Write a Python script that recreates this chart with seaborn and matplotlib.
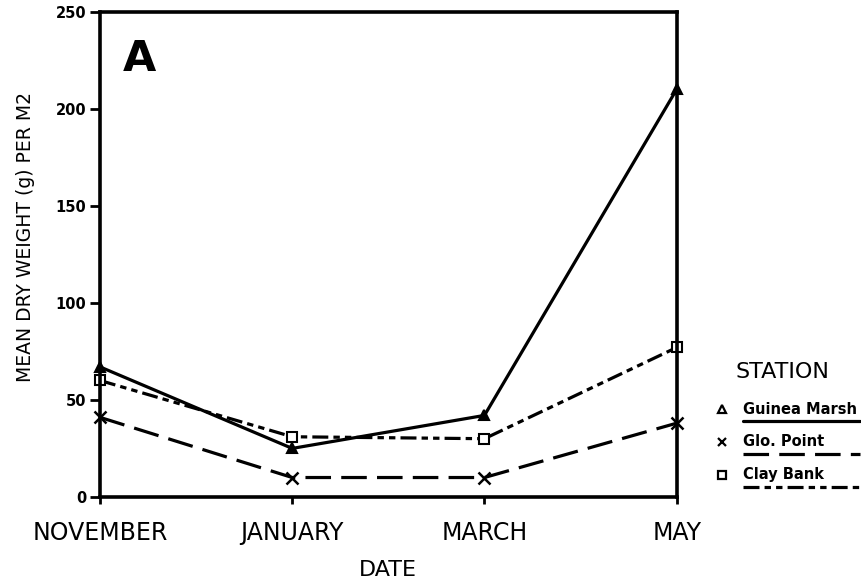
import numpy as np
import pandas as pd
import matplotlib
matplotlib.use("Agg")
import matplotlib.pyplot as plt
from matplotlib.lines import Line2D
import seaborn as sns

# Sampling months and mean dry weight (g per m2) for each station
months = ["NOVEMBER", "JANUARY", "MARCH", "MAY"]
stations = ["Guinea Marsh", "Glo. Point", "Clay Bank"]
guinea_marsh = [67, 25, 42, 210]
glo_point = [41, 10, 10, 38]
clay_bank = [60, 31, 30, 77]
y_ticks = [0, 50, 100, 150, 200, 250]

sns.set_theme(style="white")
plt.rcParams["font.family"] = ["DejaVu Sans"]
plt.rcParams["text.color"] = "black"
plt.rcParams["axes.labelcolor"] = "black"
plt.rcParams["xtick.color"] = "black"
plt.rcParams["ytick.color"] = "black"

lw = 2.3
dash_map = {
    "Guinea Marsh": "",
    "Glo. Point": (8, 3.2),
    "Clay Bank": (5, 1.6, 2, 1.6, 2, 1.6),
}
marker_style = {
    "Guinea Marsh": dict(marker="^", markersize=7, markerfacecolor="black",
                         markeredgewidth=1.5),
    "Glo. Point": dict(marker="x", markersize=9, markeredgewidth=1.8),
    "Clay Bank": dict(marker="s", markersize=7, markerfacecolor="white",
                      markeredgewidth=1.5),
}

fig = plt.figure(figsize=(8.62, 5.86), dpi=100)
ax = fig.add_axes([0.116, 0.152, 0.669, 0.828])

for name, vals in zip(stations, [guinea_marsh, glo_point, clay_bank]):
    d = pd.DataFrame({"month": range(len(months)), "weight": vals})
    sns.lineplot(data=d, x="month", y="weight", color="black", linewidth=lw,
                 markeredgecolor="black", ax=ax, clip_on=False,
                 **marker_style[name])
    line = ax.get_lines()[-1]
    if dash_map[name]:
        line.set_dashes(dash_map[name])

ax.set_xlim(0, 3)
ax.set_ylim(0, 250)
ax.set_xticks(range(len(months)))
ax.set_xticklabels(months, fontsize=17)
ax.set_yticks(y_ticks)
ax.set_yticklabels([str(t) for t in y_ticks], fontsize=10.5, fontweight="bold")
ax.tick_params(axis="x", direction="out", length=5, width=2, colors="black",
               bottom=True, pad=12)
ax.tick_params(axis="y", direction="out", length=7, width=2, colors="black",
               left=True, pad=3)
for s in ax.spines.values():
    s.set_visible(True)
    s.set_color("black")
    s.set_linewidth(2.6)

ax.set_xlabel("DATE", fontsize=16, labelpad=11, color="black")
ax.set_ylabel("MEAN DRY WEIGHT (g) PER M2", fontsize=13.5, color="black")
ax.yaxis.set_label_coords(-0.112, 0.535)
ax.text(0.04, 0.945, "A", transform=ax.transAxes, fontsize=31,
        fontweight="bold", va="top", ha="left", color="black")

# Station key to the right of the plot
W, H = 862, 586
def fx(px):
    return px / W
def fy(py):
    return 1 - py / H

fig.text(fx(782), fy(372), "STATION", fontsize=16, ha="center",
         va="center", color="black")
entries = [
    ("Guinea Marsh", "^", "", 409, 421),
    ("Glo. Point", "x", (8, 3.2), 442, 454),
    ("Clay Bank", "s", (5, 1.6, 2, 1.6, 2, 1.6), 475, 487),
]
for label, mk, dsh, ty, ly in entries:
    fig.add_artist(Line2D([fx(722)], [fy(ty)], marker=mk, color="black",
                          markersize=6, markerfacecolor="white",
                          markeredgewidth=1.6, linestyle="none",
                          transform=fig.transFigure))
    fig.text(fx(743), fy(ty), label, fontsize=10.5, fontweight="bold",
             ha="left", va="center", color="black")
    ln = Line2D([fx(743), fx(860)], [fy(ly), fy(ly)], color="black",
                linewidth=lw, transform=fig.transFigure)
    if dsh:
        ln.set_dashes(dsh)
    fig.add_artist(ln)

fig.savefig("out.png", dpi=100)
